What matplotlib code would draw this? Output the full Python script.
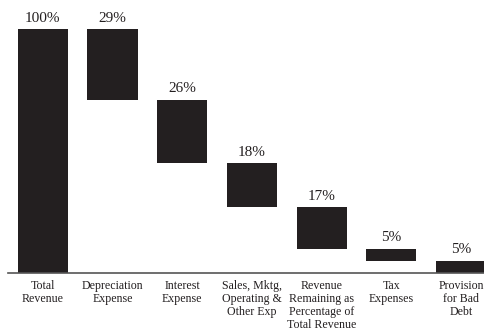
import matplotlib.pyplot as plt

categories = ["Total\nRevenue", "Depreciation\nExpense", "Interest\nExpense",
              "Sales, Mktg,\nOperating &\nOther Exp",
              "Revenue\nRemaining as\nPercentage of\nTotal Revenue",
              "Tax\nExpenses", "Provision\nfor Bad\nDebt"]
total = 100
parts = [29, 26, 18, 17, 5, 5]  # share of total revenue, in %

plt.rcParams['font.family'] = ['Liberation Serif', 'DejaVu Serif']

# waterfall: first bar is the total, the rest step down from it
heights = [total] + parts
bottoms = [0]
level = total
for p in parts:
    level -= p
    bottoms.append(level)

fig = plt.figure(figsize=(4.84, 3.3), dpi=100)
ax = fig.add_axes([8 / 484, 57 / 330, 476 / 484, 273 / 330])

xs = range(len(categories))
ax.bar(xs, heights, bottom=bottoms, width=0.72, color="#231f20")

for x, b, h in zip(xs, bottoms, heights):
    ax.text(x, b + h + 1.8, "%d%%" % h, ha="center", va="bottom",
            fontsize=11, color="#231f20")

ax.set_xlim(-0.5, 6.33)
ax.set_ylim(0, 111.9)
ax.set_xticks(list(xs))
ax.set_xticklabels(categories, fontsize=8.6, color="#231f20", linespacing=1.12)
ax.tick_params(axis="x", length=0, pad=5)
ax.set_yticks([])
for s in ["top", "right", "left"]:
    ax.spines[s].set_visible(False)
ax.spines["bottom"].set_color("#555555")
ax.spines["bottom"].set_linewidth(1.2)

fig.savefig("out.png", dpi=100)
